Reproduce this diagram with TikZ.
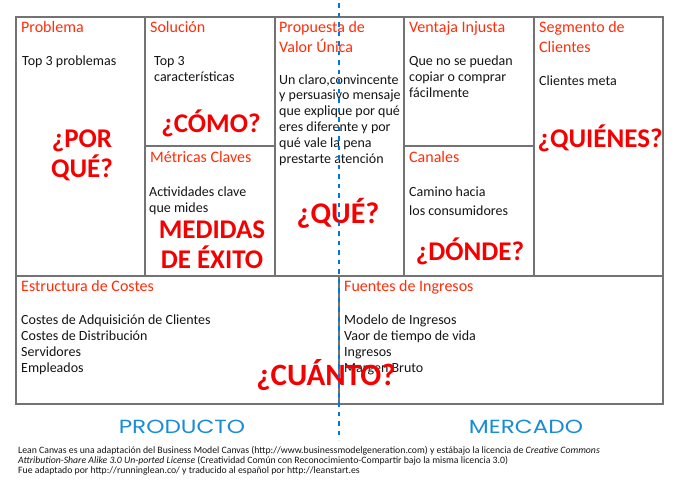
\documentclass[tikz,border=0pt]{standalone}
\usepackage{fontspec}
\setmainfont{Carlito}
\newfontfamily\geofont[FakeStretch=1.22]{Poppins}
\definecolor{framegray}{RGB}{115,115,115}
\definecolor{hdrred}{RGB}{255,45,10}
\definecolor{bigred}{RGB}{245,0,0}
\definecolor{dashblue}{RGB}{0,120,215}
\definecolor{txtblue}{RGB}{25,140,215}
\definecolor{bodyblack}{RGB}{20,20,20}
\tikzset{
  hdr/.style={font=\fontsize{16}{20}\selectfont, text=hdrred, anchor=base west, inner sep=0pt, align=left},
  body/.style={font=\fontsize{14}{15.8}\selectfont, text=bodyblack, anchor=base west, inner sep=0pt, align=left},
  big/.style={font=\bfseries\fontsize{27}{30}\selectfont, text=bigred, anchor=base, inner sep=0pt, align=center},
  side/.style={font=\geofont\fontsize{19}{22}\selectfont, text=txtblue, anchor=base, inner sep=0pt},
  foot/.style={font=\fontsize{9.75}{7.2}\selectfont, text=bodyblack, anchor=base west, inner sep=0pt, align=left},
  outer/.style={draw=framegray, line width=2pt},
  inner/.style={draw=framegray, line width=1.2pt},
  divider/.style={draw=dashblue, line width=2.6pt, dash pattern=on 4.5pt off 5pt}
}
\begin{document}
\begin{tikzpicture}[x=1pt,y=-1pt]
\useasboundingbox (0,0) rectangle (684,490);
% grid
\draw[inner] (145,17) -- (145,276);
\draw[inner] (275,17) -- (275,276);
\draw[inner] (404,17) -- (404,276);
\draw[inner] (534,17) -- (534,276);
\draw[inner] (145,146) -- (275,146);
\draw[inner] (404,146) -- (534,146);
\draw[inner] (16,276) -- (663,276);
\draw[inner] (339,276) -- (339,404);
\draw[outer] (16,17) rectangle (663,404);
% headers (anchor = baseline of last line)
\node[hdr] (h1) at (21,32) {Problema};
\node[hdr] (h2) at (150,32) {Solución};
\node[hdr] (h3) at (279,52) {Propuesta de\\Valor Única};
\node[hdr] (h4) at (409,32) {Ventaja Injusta};
\node[hdr] (h5) at (539,52) {Segmento de\\Clientes};
\node[hdr] (h6) at (150,162) {Métricas Claves};
\node[hdr] (h7) at (409,162) {Canales};
\node[hdr] (h8) at (21,291) {Estructura de Costes};
\node[hdr] (h9) at (344,291) {Fuentes de Ingresos};
% body texts
\node[body] (b1) at (22,65) {Top 3 problemas};
\node[body] (b2) at (154,81) {Top 3\\características};
\node[body] (b3) at (279,163) {Un claro,convincente\\y persuasivo mensaje\\que explique por qué\\eres diferente y por\\qué vale la pena\\prestarte atención};
\node[body] (b4) at (409,97.5) {Que no se puedan\\copiar o comprar\\fácilmente};
\node[body] (b5) at (539,85) {Clientes meta};
\node[body] (b6) at (149,212.5) {Actividades clave\\que mides};
\node[body] (b7) at (409,215) {Camino hacia\\[3pt]los consumidores};
\node[body, font=\fontsize{14}{16}\selectfont] (b8) at (21,372) {Costes de Adquisición de Clientes\\Costes de Distribución\\Servidores\\Empleados};
\node[body, font=\fontsize{14}{16}\selectfont] (b9) at (344,372) {Modelo de Ingresos\\Vaor de tiempo de vida\\Ingresos\\Margen Bruto};
% big questions
\node[big] (q1) at (82,177) {¿POR\\QUÉ?};
\node[big] (q2) at (211,132) {¿CÓMO?};
\node[big] (q3) at (212,268) {MEDIDAS\\DE ÉXITO};
\node[big, font=\bfseries\fontsize{30}{32}\selectfont] (q4) at (338,223) {¿QUÉ?};
\node[big] (q5) at (470,260) {¿DÓNDE?};
\node[big] (q6) at (600,147) {¿QUIÉNES?};
\node[big, font=\bfseries\fontsize{31}{34}\selectfont] (q7) at (326,385) {¿CUÁNTO?};
% side labels
\node[side] (s1) at (182,433) {PRODUCTO};
\node[side] (s2) at (526,433) {MERCADO};
% footnote
\node[foot] (fn) at (18,473) {Lean Canvas es una adaptación del Business Model Canvas (http://www.businessmodelgeneration.com) y estábajo la licencia de \textit{Creative Commons}\\\textit{Attribution-Share Alike 3.0 Un-ported License} (Creatividad Común con Reconocimiento-Compartir bajo la misma licencia 3.0)\\Fue adaptado por http://runninglean.co/ y traducido al español por http://leanstart.es};
% dashed divider
\coordinate (dtop) at (339,3);
\coordinate (dbot) at (339,440);
\draw[divider] (dtop) -- (dbot);
\end{tikzpicture}
\end{document}
